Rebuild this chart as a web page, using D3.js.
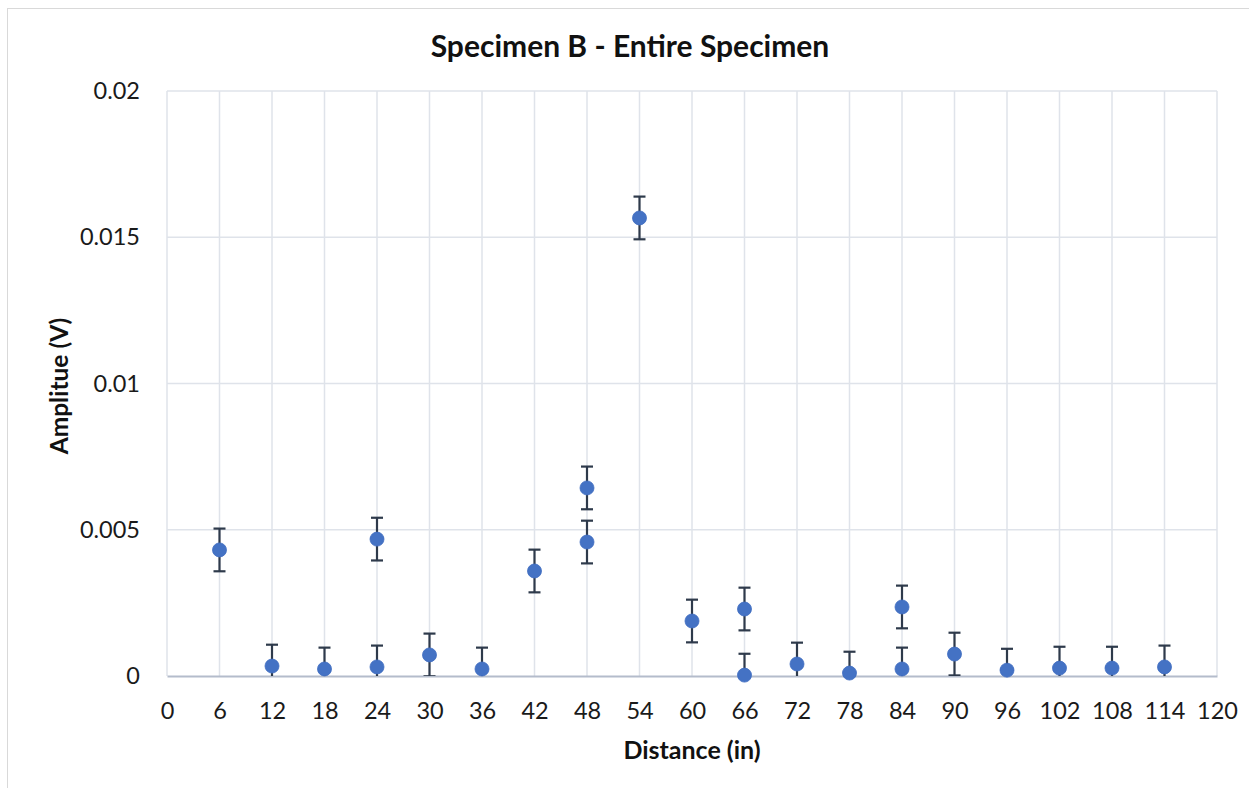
<!DOCTYPE html>
<html>
<head>
<meta charset="utf-8">
<script src="https://cdn.jsdelivr.net/npm/d3@7"></script>
<style>
  html, body { margin: 0; padding: 0; background: #fff; }
  svg { display: block; }
  text { font-family: Lato, "Open Sans", "Liberation Sans", sans-serif; }
</style>
</head>
<body>
<svg id="chart" width="1249" height="788"></svg>
<script>
// Measurement positions (in) and amplitudes (V)
const distances = [6, 12, 18, 24, 24, 30, 36, 42, 48, 48, 54, 60, 66, 66, 72, 78, 84, 84, 90, 96, 102, 108, 114];
const amplitudes = [0.00431, 0.00034, 0.00024, 0.00468, 0.00031, 0.00072, 0.00024, 0.00359, 0.00643, 0.00458,
                    0.01566, 0.00188, 0.00229, 0.00003, 0.00041, 0.00010, 0.00236, 0.00024, 0.00075, 0.00020,
                    0.00027, 0.00027, 0.00031];
const errorAmount = 0.00073;

const xTicks = d3.range(0, 121, 6);
const yTicks = [0, 0.005, 0.01, 0.015, 0.02];
const yTickLabels = ["0", "0.005", "0.01", "0.015", "0.02"];

const svg = d3.select("#chart");
const W = 1249, H = 788;
const m = { left: 167, right: 1217, top: 91, bottom: 676 };

// Chart frame (right and bottom edges run past the canvas)
svg.append("rect")
  .attr("x", 7.5).attr("y", 8.5).attr("width", W).attr("height", H)
  .attr("fill", "#fff").attr("stroke", "#d9d9d9").attr("stroke-width", 1);

const x = d3.scaleLinear().domain([0, 120]).range([m.left, m.right]);
const y = d3.scaleLinear().domain([0, 0.02]).range([m.bottom, m.top]);

// Gridlines
svg.append("g").selectAll("line.v").data(xTicks).join("line")
  .attr("x1", d => x(d)).attr("x2", d => x(d))
  .attr("y1", m.top).attr("y2", m.bottom)
  .attr("stroke", "#dfe3ea").attr("stroke-width", 1.5);
svg.append("g").selectAll("line.h").data(yTicks.slice(1)).join("line")
  .attr("x1", m.left).attr("x2", m.right)
  .attr("y1", d => y(d)).attr("y2", d => y(d))
  .attr("stroke", "#dfe3ea").attr("stroke-width", 1.5);

// Axes (labels only, no tick marks)
const xAxis = svg.append("g").attr("transform", `translate(0,${m.bottom})`)
  .call(d3.axisBottom(x).tickValues(xTicks).tickSize(0).tickPadding(26).tickFormat(d3.format("d")));
xAxis.select(".domain").attr("stroke", "#b4bccb").attr("stroke-width", 2);
xAxis.selectAll("text").attr("font-size", 23.5).attr("fill", "#1a1a1a");

const yAxis = svg.append("g").attr("transform", `translate(${m.left},0)`)
  .call(d3.axisLeft(y).tickValues(yTicks).tickSize(0).tickPadding(27)
    .tickFormat((d, i) => yTickLabels[i]));
yAxis.select(".domain").remove();
yAxis.selectAll("text").attr("font-size", 23.5).attr("fill", "#1a1a1a");

// Error bars, clipped to the plot area
svg.append("clipPath").attr("id", "plotClip")
  .append("rect").attr("x", m.left).attr("y", m.top - 10)
  .attr("width", m.right - m.left).attr("height", m.bottom - m.top + 10);

const pts = distances.map((d, i) => ({ d, v: amplitudes[i] }));
const eb = svg.append("g").attr("clip-path", "url(#plotClip)")
  .attr("stroke", "#2e3a4b").attr("stroke-width", 2.2).attr("fill", "none");
eb.selectAll("line.stem").data(pts).join("line")
  .attr("x1", p => x(p.d)).attr("x2", p => x(p.d))
  .attr("y1", p => y(p.v + errorAmount)).attr("y2", p => y(p.v - errorAmount));
eb.selectAll("line.capT").data(pts).join("line")
  .attr("x1", p => x(p.d) - 6).attr("x2", p => x(p.d) + 6)
  .attr("y1", p => y(p.v + errorAmount)).attr("y2", p => y(p.v + errorAmount));
eb.selectAll("line.capB").data(pts).join("line")
  .attr("x1", p => x(p.d) - 6).attr("x2", p => x(p.d) + 6)
  .attr("y1", p => y(p.v - errorAmount)).attr("y2", p => y(p.v - errorAmount));

// Markers
svg.append("g").selectAll("circle").data(pts).join("circle")
  .attr("cx", p => x(p.d)).attr("cy", p => y(p.v)).attr("r", 7)
  .attr("fill", "#4472c4").attr("stroke", "#3f6cc0").attr("stroke-width", 0.8);

// Titles
svg.append("text").attr("x", 630).attr("y", 57).attr("text-anchor", "middle")
  .attr("font-size", 30).attr("font-weight", "bold").attr("fill", "#111")
  .text("Specimen B - Entire Specimen");
svg.append("text").attr("x", 692).attr("y", 759).attr("text-anchor", "middle")
  .attr("font-size", 25).attr("font-weight", "bold").attr("fill", "#111")
  .text("Distance (in)");
svg.append("text").attr("transform", `translate(68,386) rotate(-90)`).attr("text-anchor", "middle")
  .attr("font-size", 24.5).attr("font-weight", "bold").attr("fill", "#111")
  .text("Amplitue (V)");
</script>
</body>
</html>
